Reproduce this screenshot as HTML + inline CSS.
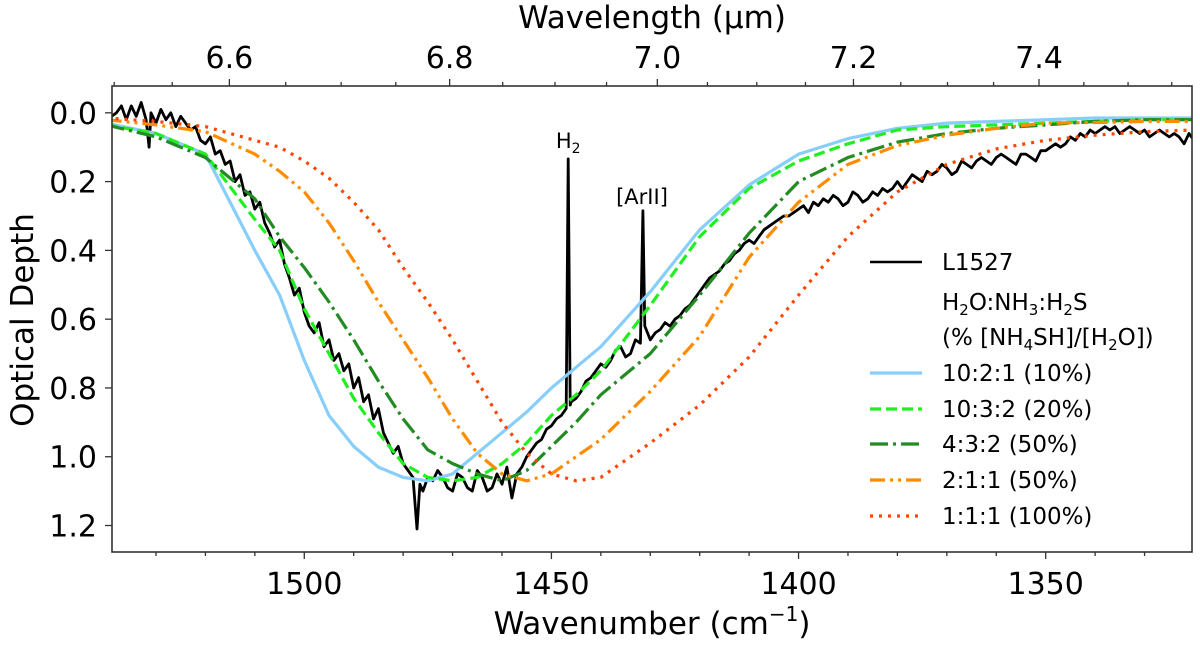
<!DOCTYPE html>
<html><head><meta charset="utf-8">
<style>
html,body{margin:0;padding:0;background:#fff;}
svg{display:block;font-family:"DejaVu Sans","Liberation Sans",sans-serif;}
</style></head>
<body>
<svg id="chart" width="1200" height="646" viewBox="0 0 1200 646" xmlns="http://www.w3.org/2000/svg"></svg>
<script>
// ---- data ----
const modelWn = [1540,1530,1520,1510,1505,1500,1495,1490,1485,1480,1475,1470,1465,1460,1455,1450,1445,1440,1430,1420,1410,1400,1390,1380,1370,1360,1350,1340,1330,1320];
const tau1021 = [0.03,0.06,0.12,0.40,0.53,0.72,0.88,0.97,1.03,1.06,1.07,1.05,0.99,0.93,0.87,0.80,0.74,0.68,0.52,0.34,0.21,0.12,0.075,0.045,0.03,0.025,0.02,0.015,0.015,0.015];
const tau1032 = [0.035,0.06,0.12,0.31,0.40,0.57,0.70,0.83,0.93,1.02,1.06,1.07,1.06,1.02,0.96,0.88,0.82,0.75,0.56,0.36,0.22,0.14,0.09,0.05,0.04,0.035,0.03,0.025,0.02,0.02];
const tau432 = [0.035,0.07,0.13,0.25,0.36,0.45,0.55,0.66,0.78,0.89,0.98,1.02,1.05,1.07,1.04,0.97,0.90,0.82,0.70,0.53,0.35,0.20,0.13,0.085,0.06,0.045,0.035,0.025,0.02,0.02];
const tau211 = [0.02,0.035,0.055,0.12,0.17,0.23,0.32,0.43,0.55,0.66,0.77,0.89,0.99,1.05,1.07,1.05,1.00,0.95,0.81,0.65,0.42,0.26,0.15,0.095,0.065,0.045,0.03,0.028,0.025,0.025];
const tau111 = [0.015,0.025,0.04,0.08,0.10,0.14,0.19,0.26,0.34,0.45,0.55,0.66,0.78,0.90,0.99,1.05,1.07,1.06,0.96,0.85,0.71,0.53,0.36,0.23,0.15,0.105,0.08,0.065,0.055,0.05];
const obsWn = [1540,1539,1538,1537,1536,1535,1534,1533,1532,1531.4,1531,1530,1529,1528,1527,1526,1525,1524,1523,1522,1521,1520,1519,1518,1517,1516,1515,1514,1513,1512,1511,1510,1509,1508,1507,1506,1505,1504,1503,1502,1501,1500,1499,1498,1497,1496,1495,1494,1493,1492,1491,1490,1489,1488,1487,1486,1485,1484,1483,1482,1481,1480,1479,1478,1477.2,1476.6,1476,1475,1474,1473,1472,1471,1470,1469,1468,1467,1466,1465,1464,1463,1462,1461,1460,1459,1458,1457,1456,1455,1454,1453,1452,1451,1450,1449,1448,1447,1446.6,1446.2,1446,1445,1444,1443,1442,1441,1440,1439,1438,1437,1436,1435,1434,1433,1432,1431.9,1431.5,1431.1,1430,1429,1428,1427,1426,1425,1424,1423,1422,1421,1420,1419,1418,1417,1416,1415,1414,1413,1412,1411,1410,1409,1408,1407,1406,1405,1404,1403,1402,1401,1400,1399,1398,1397,1396,1395,1394,1393,1392,1391,1390,1389,1388,1387,1386,1385,1384,1383,1382,1381,1380,1379,1378,1377,1376,1375,1374,1373,1372,1371,1370,1369,1368,1367,1366,1365,1364,1363,1362,1361,1360,1359,1358,1357,1356,1355,1354,1353,1352,1351,1350,1349,1348,1347,1346,1345,1344,1343,1342,1341,1340,1339,1338,1337,1336,1335,1334,1333,1332,1331,1330,1329,1328,1327,1326,1325,1324,1323,1322,1321,1320];
const obsTau = [-0.01,0.01,0.00,-0.02,0.02,-0.02,0.01,-0.03,0.02,0.10,0.00,0.03,-0.01,0.02,0.00,0.04,0.01,0.03,0.05,0.04,0.08,0.09,0.07,0.12,0.11,0.15,0.14,0.20,0.18,0.24,0.23,0.28,0.26,0.32,0.35,0.39,0.37,0.44,0.48,0.53,0.51,0.58,0.62,0.64,0.61,0.68,0.66,0.72,0.70,0.75,0.73,0.80,0.77,0.84,0.82,0.89,0.86,0.93,0.96,0.99,0.97,1.02,1.04,1.06,1.21,1.08,1.10,1.06,1.07,1.04,1.06,1.09,1.10,1.05,1.06,1.09,1.10,1.04,1.06,1.10,1.09,1.05,1.08,1.03,1.12,1.05,1.03,1.00,0.98,0.96,0.95,0.92,0.91,0.89,0.88,0.86,0.134,0.85,0.84,0.83,0.81,0.78,0.77,0.75,0.73,0.74,0.72,0.69,0.68,0.71,0.70,0.66,0.67,0.60,0.285,0.62,0.66,0.64,0.63,0.61,0.62,0.60,0.59,0.57,0.56,0.54,0.52,0.50,0.48,0.47,0.46,0.44,0.43,0.41,0.40,0.38,0.37,0.38,0.36,0.34,0.33,0.32,0.31,0.30,0.30,0.29,0.28,0.27,0.29,0.26,0.27,0.25,0.26,0.24,0.25,0.27,0.26,0.23,0.24,0.26,0.25,0.23,0.24,0.22,0.23,0.22,0.20,0.22,0.20,0.18,0.19,0.20,0.17,0.18,0.17,0.15,0.16,0.18,0.17,0.14,0.15,0.16,0.14,0.13,0.14,0.15,0.13,0.12,0.13,0.14,0.15,0.12,0.12,0.13,0.14,0.11,0.11,0.10,0.09,0.10,0.09,0.07,0.08,0.06,0.07,0.05,0.06,0.05,0.04,0.05,0.04,0.06,0.05,0.04,0.05,0.06,0.05,0.07,0.06,0.05,0.06,0.07,0.06,0.07,0.09,0.06,0.08,0.10,0.09,0.10];
const xTicks = [1500,1450,1400,1350];
const yTicks = [0.0,0.2,0.4,0.6,0.8,1.0,1.2];
const yTickLabels = ["0.0","0.2","0.4","0.6","0.8","1.0","1.2"];
const lamTicks = [6.6,6.8,7.0,7.2,7.4];
const lamTickLabels = ["6.6","6.8","7.0","7.2","7.4"];

// ---- layout ----
const L=112,R=1192,T=86,B=552;
const wnMax=1538.9, wnMin=1320.4, tMin=-0.078, tMax=1.277;
function X(wn){return L+(wnMax-wn)/(wnMax-wnMin)*(R-L);}
function Y(t){return T+(t-tMin)/(tMax-tMin)*(B-T);}
const NS="http://www.w3.org/2000/svg";
const svg=document.getElementById('chart');
function mk(tag,attrs,parent){const e=document.createElementNS(NS,tag);for(const k in attrs)e.setAttribute(k,attrs[k]);(parent||svg).appendChild(e);return e;}

const defs=mk('defs',{});
const cp=mk('clipPath',{id:'plotclip'},defs);
mk('rect',{x:L,y:T,width:R-L,height:B-T},cp);

const plotG=mk('g',{'clip-path':'url(#plotclip)'});



function pathFrom(xs,ys){let d='';for(let i=0;i<xs.length;i++){d+=(i?'L':'M')+X(xs[i]).toFixed(1)+','+Y(ys[i]).toFixed(1);}return d;}

const obs=mk('path',{d:pathFrom(obsWn,obsTau),fill:'none',stroke:'#000','stroke-width':2.8,'stroke-linejoin':'round'},plotG);



const series=[
 {name:'model-10-2-1',v:tau1021,c:'#87CEFA',dash:''},
 {name:'model-10-3-2',v:tau1032,c:'#22EE22',dash:'11,5'},
 {name:'model-4-3-2',v:tau432,c:'#228B22',dash:'18,5,3,5'},
 {name:'model-2-1-1',v:tau211,c:'#FF8C00',dash:'15,5,3,5,3,5'},
 {name:'model-1-1-1',v:tau111,c:'#FF4500',dash:'3,6'}
];
series.forEach(s=>{
 const p=mk('path',{d:pathFrom(modelWn,s.v),fill:'none',stroke:s.c,'stroke-width':3.2,'stroke-dasharray':s.dash,'stroke-linejoin':'round'},plotG);
 
 
});

// annotations
const a1=mk('text',{x:X(1446.6),y:148,'font-size':21,'text-anchor':'middle',fill:'#000'});


a1.innerHTML='H<tspan font-size="14" dy="5">2</tspan>';
const a2=mk('text',{x:642,y:204,'font-size':21,'text-anchor':'middle',fill:'#000'});


a2.textContent='[ArII]';

// frame
const fr=mk('rect',{x:L,y:T,width:R-L,height:B-T,fill:'none',stroke:'#333','stroke-width':1.6});



// bottom ticks
for(let wn=1530;wn>=1330;wn-=10){
 const major=xTicks.indexOf(wn)>=0;
 mk('line',{x1:X(wn),x2:X(wn),y1:B,y2:B+(major?7:4),stroke:'#333','stroke-width':1.3});
}
xTicks.forEach(v=>{
 const t=mk('text',{x:X(v),y:594,'font-size':30,'text-anchor':'middle',fill:'#000'});
 
 
 t.textContent=String(v);
});
// left ticks
yTicks.forEach((v,i)=>{
 mk('line',{x1:L-7,x2:L,y1:Y(v),y2:Y(v),stroke:'#333','stroke-width':1.3});
 const t=mk('text',{x:97,y:Y(v)+11,'font-size':30,'text-anchor':'end',fill:'#000'});
 
 
 t.textContent=yTickLabels[i];
});
// top ticks (wavelength)
for(let k=0;k<=24;k++){
 const lam=6.5+k*0.05;const wn=1e4/lam;
 if(wn>wnMax||wn<wnMin)continue;
 const major=Math.abs(lam*10-Math.round(lam*10))<1e-6 && Math.round(lam*10)%2===0;
 mk('line',{x1:X(wn),x2:X(wn),y1:T,y2:T-(major?7:4),stroke:'#333','stroke-width':1.3});
}
lamTicks.forEach((v,i)=>{
 const t=mk('text',{x:X(1e4/v),y:68,'font-size':30,'text-anchor':'middle',fill:'#000'});
 
 
 t.textContent=lamTickLabels[i];
});
// axis titles
const xt=mk('text',{x:652,y:634,'font-size':31,'text-anchor':'middle',fill:'#000'});


xt.innerHTML='Wavenumber (cm<tspan font-size="20" dy="-13">−1</tspan><tspan dy="13">)</tspan>';
const tt=mk('text',{x:652,y:28,'font-size':31,'text-anchor':'middle',fill:'#000'});


tt.textContent='Wavelength (μm)';
const yt=mk('text',{x:0,y:0,'font-size':31,'text-anchor':'middle',fill:'#000',transform:'translate(33,320) rotate(-90)'});


yt.textContent='Optical Depth';

// legend
const lg=mk('g',{});


const rows=[
 {y:262,c:'#000',dash:'',w:2.6,txt:'L1527'},
 {y:302,c:null,txt:'H<tspan font-size="15" dy="5">2</tspan><tspan dy="-5">O:NH</tspan><tspan font-size="15" dy="5">3</tspan><tspan dy="-5">:H</tspan><tspan font-size="15" dy="5">2</tspan><tspan dy="-5">S</tspan>'},
 {y:337,c:null,txt:'(% [NH<tspan font-size="15" dy="5">4</tspan><tspan dy="-5">SH]/[H</tspan><tspan font-size="15" dy="5">2</tspan><tspan dy="-5">O])</tspan>'},
 {y:373,c:'#87CEFA',dash:'',w:3.2,txt:'10:2:1 (10%)'},
 {y:409,c:'#22EE22',dash:'11,5',w:3.2,txt:'10:3:2 (20%)'},
 {y:444,c:'#228B22',dash:'18,5,3,5',w:3.2,txt:'4:3:2 (50%)'},
 {y:480,c:'#FF8C00',dash:'15,5,3,5,3,5',w:3.2,txt:'2:1:1 (50%)'},
 {y:516,c:'#FF4500',dash:'3,6',w:3.2,txt:'1:1:1 (100%)'}
];
rows.forEach(r=>{
 const g=mk('g',{},lg);
 
 
 if(r.c){mk('line',{x1:870,x2:922,y1:r.y,y2:r.y,stroke:r.c,'stroke-width':r.w,'stroke-dasharray':r.dash},g);}
 const t=mk('text',{x:942,y:r.y+8,'font-size':23,fill:'#000'},g);
 t.innerHTML=r.txt;
});
</script>
</body></html>
